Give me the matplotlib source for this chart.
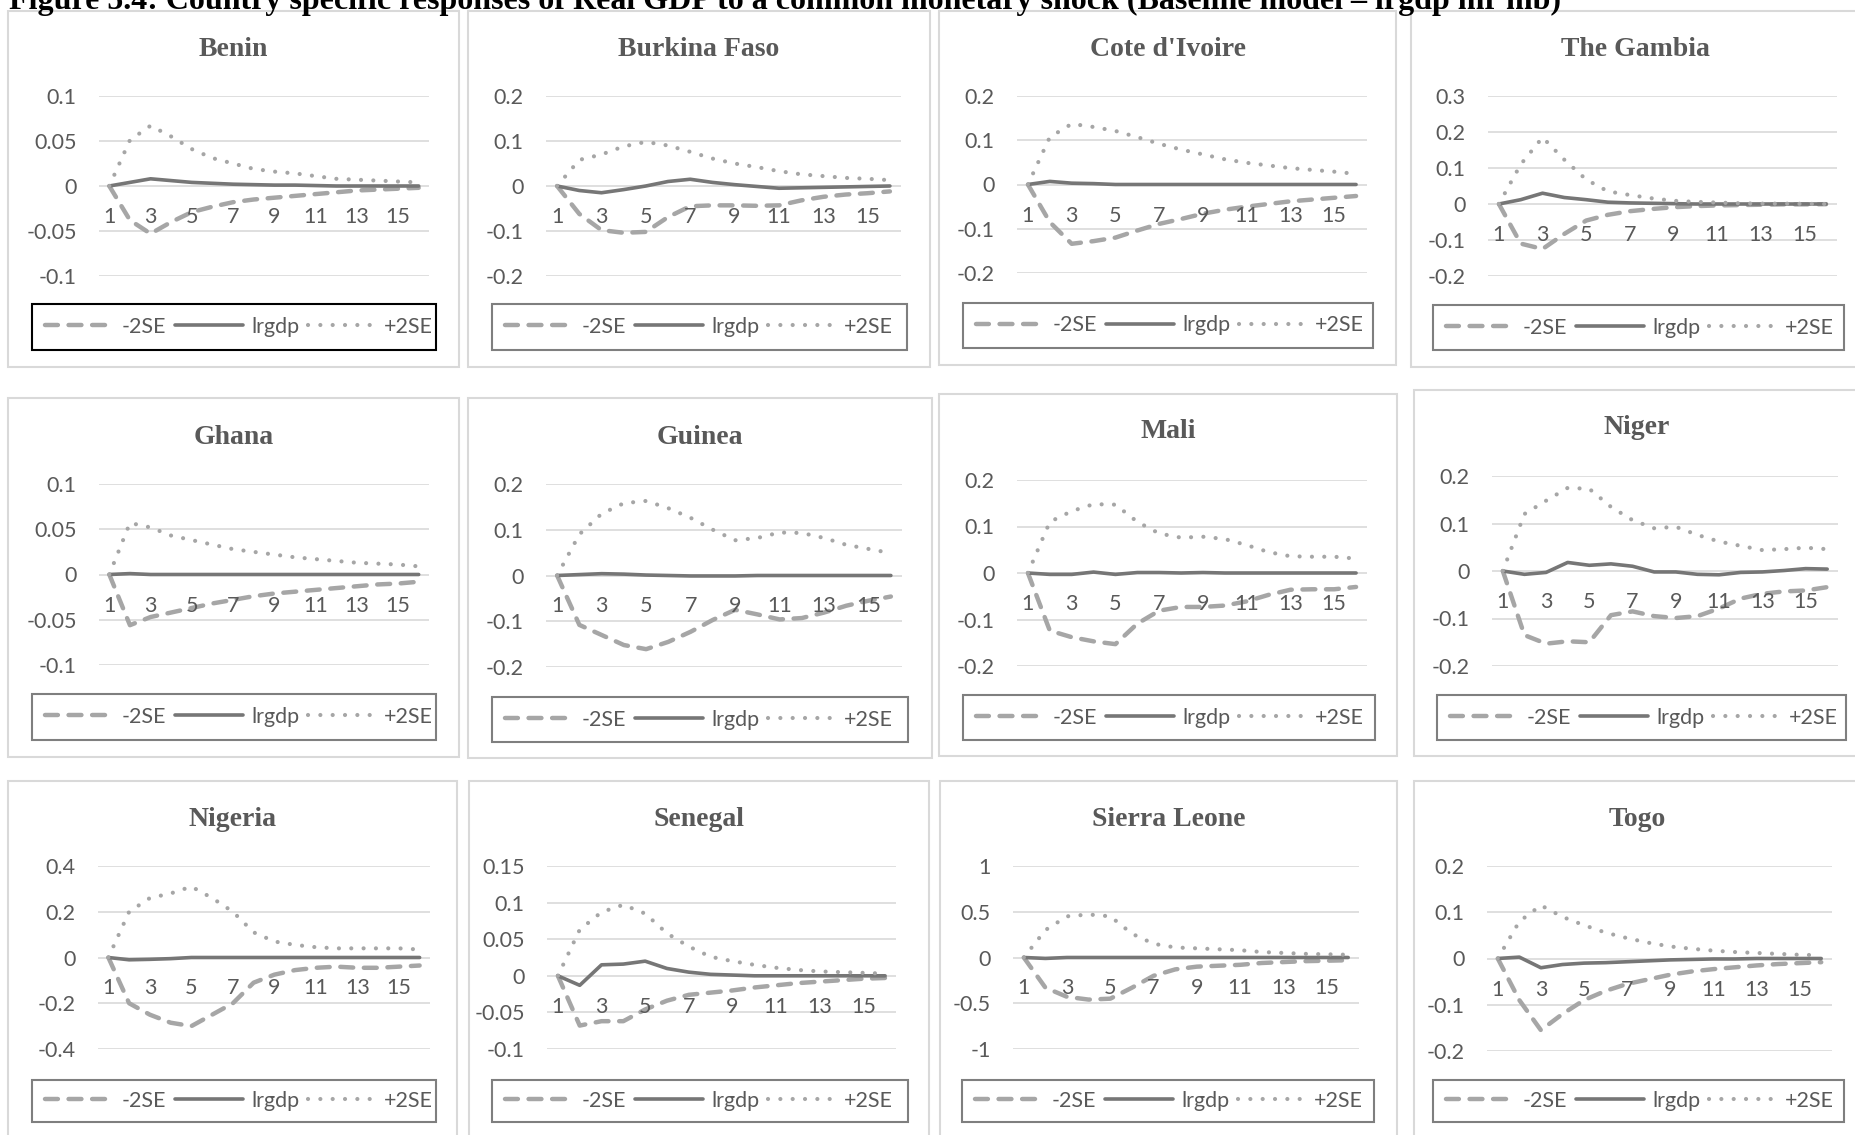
import matplotlib
matplotlib.use("Agg")
import matplotlib.pyplot as plt
from matplotlib.patches import Rectangle
from matplotlib.lines import Line2D

W, H = 1856, 1135

TITLE = ("Figure 5.4: Country specific responses of Real GDP to a common "
         "monetary shock (Baseline model \u2013 lrgdp mr mb)")

periods = list(range(1, 17))
xtick_labels = ["1", "3", "5", "7", "9", "11", "13", "15"]

countries = ["Benin", "Burkina Faso", "Cote d'Ivoire", "The Gambia",
             "Ghana", "Guinea", "Mali", "Niger",
             "Nigeria", "Senegal", "Sierra Leone", "Togo"]

ylims = [(-0.1, 0.1), (-0.2, 0.2), (-0.2, 0.2), (-0.2, 0.3),
         (-0.1, 0.1), (-0.2, 0.2), (-0.2, 0.2), (-0.2, 0.2),
         (-0.4, 0.4), (-0.1, 0.15), (-1, 1), (-0.2, 0.2)]
ysteps = [0.05, 0.1, 0.1, 0.1,
          0.05, 0.1, 0.1, 0.1,
          0.2, 0.05, 0.5, 0.1]

# -2SE
lower = [
    [0, -0.038, -0.053, -0.040, -0.029, -0.023, -0.018, -0.015, -0.013, -0.011, -0.009, -0.007, -0.005, -0.004, -0.003, -0.002],
    [0, -0.062, -0.098, -0.104, -0.102, -0.069, -0.045, -0.043, -0.043, -0.044, -0.043, -0.032, -0.024, -0.019, -0.016, -0.012],
    [0, -0.085, -0.134, -0.128, -0.120, -0.104, -0.089, -0.078, -0.066, -0.057, -0.050, -0.044, -0.038, -0.034, -0.030, -0.026],
    [0, -0.110, -0.125, -0.083, -0.046, -0.030, -0.020, -0.014, -0.009, -0.006, -0.004, -0.003, -0.002, -0.001, -0.001, -0.0005],
    [0, -0.056, -0.047, -0.042, -0.037, -0.032, -0.028, -0.024, -0.021, -0.019, -0.017, -0.015, -0.013, -0.011, -0.010, -0.008],
    [0, -0.108, -0.130, -0.152, -0.161, -0.145, -0.123, -0.097, -0.075, -0.085, -0.096, -0.093, -0.081, -0.066, -0.055, -0.046],
    [0, -0.124, -0.138, -0.147, -0.153, -0.109, -0.081, -0.073, -0.073, -0.070, -0.061, -0.047, -0.036, -0.035, -0.035, -0.030],
    [0, -0.135, -0.153, -0.148, -0.150, -0.093, -0.085, -0.095, -0.099, -0.095, -0.079, -0.058, -0.048, -0.043, -0.041, -0.034],
    [0, -0.200, -0.250, -0.285, -0.300, -0.250, -0.200, -0.110, -0.075, -0.055, -0.045, -0.040, -0.045, -0.045, -0.040, -0.035],
    [0, -0.068, -0.062, -0.062, -0.046, -0.034, -0.026, -0.023, -0.020, -0.016, -0.013, -0.010, -0.008, -0.006, -0.004, -0.003],
    [0, -0.330, -0.430, -0.460, -0.450, -0.330, -0.200, -0.130, -0.100, -0.090, -0.080, -0.060, -0.050, -0.040, -0.035, -0.030],
    [0, -0.090, -0.155, -0.120, -0.090, -0.070, -0.055, -0.045, -0.035, -0.028, -0.023, -0.019, -0.015, -0.012, -0.010, -0.008],
]

# lrgdp
response = [
    [0, 0.004, 0.008, 0.006, 0.004, 0.003, 0.002, 0.0015, 0.001, 0.001, 0.0005, 0, 0, 0, 0, 0],
    [0, -0.010, -0.015, -0.008, 0, 0.010, 0.015, 0.008, 0.003, -0.001, -0.005, -0.004, -0.003, -0.002, -0.001, 0],
    [0, 0.007, 0.003, 0.002, 0, 0, 0, 0, 0, 0, 0, 0, 0, 0, 0, 0],
    [0, 0.012, 0.030, 0.018, 0.012, 0.005, 0.003, 0.002, 0.001, 0, 0, 0, 0, 0, 0, 0],
    [0, 0.001, 0, 0, 0, 0, 0, 0, 0, 0, 0, 0, 0, 0, 0, 0],
    [0, 0.002, 0.004, 0.003, 0.001, 0, -0.001, -0.001, -0.001, 0, 0, 0, 0, 0, 0, 0],
    [0, -0.003, -0.003, 0.002, -0.003, 0.001, 0.001, 0, 0.001, 0, 0, 0, 0, 0, 0, 0],
    [0, -0.007, -0.003, 0.018, 0.012, 0.015, 0.010, -0.002, -0.002, -0.007, -0.008, -0.003, -0.002, 0.001, 0.005, 0.004],
    [0, -0.010, -0.008, -0.005, 0, 0, 0, 0, 0, 0, 0, 0, 0, 0, 0, 0],
    [0, -0.013, 0.015, 0.016, 0.020, 0.010, 0.005, 0.002, 0.001, 0, 0, 0, 0, 0, 0, 0],
    [0, -0.010, 0, 0, 0, 0, 0, 0, 0, 0, 0, 0, 0, 0, 0, 0],
    [0, 0.003, -0.020, -0.013, -0.010, -0.009, -0.007, -0.005, -0.003, -0.002, -0.001, -0.001, 0, 0, 0, 0],
]

# +2SE
upper = [
    [0, 0.051, 0.067, 0.055, 0.041, 0.031, 0.025, 0.019, 0.016, 0.014, 0.011, 0.008, 0.007, 0.006, 0.005, 0.004],
    [0, 0.058, 0.070, 0.088, 0.098, 0.090, 0.076, 0.061, 0.050, 0.042, 0.033, 0.026, 0.022, 0.018, 0.016, 0.013],
    [0, 0.107, 0.137, 0.130, 0.121, 0.107, 0.092, 0.079, 0.068, 0.057, 0.049, 0.043, 0.037, 0.033, 0.029, 0.024],
    [0, 0.110, 0.185, 0.123, 0.068, 0.035, 0.025, 0.016, 0.009, 0.006, 0.004, 0.002, 0.001, 0.001, 0.0005, 0],
    [0, 0.057, 0.052, 0.043, 0.038, 0.033, 0.028, 0.025, 0.022, 0.019, 0.017, 0.015, 0.013, 0.012, 0.011, 0.009],
    [0, 0.090, 0.135, 0.158, 0.163, 0.147, 0.126, 0.100, 0.077, 0.082, 0.094, 0.093, 0.082, 0.067, 0.058, 0.049],
    [0, 0.110, 0.133, 0.148, 0.147, 0.110, 0.085, 0.076, 0.078, 0.073, 0.060, 0.045, 0.036, 0.035, 0.035, 0.031],
    [0, 0.120, 0.148, 0.175, 0.173, 0.135, 0.107, 0.090, 0.093, 0.076, 0.062, 0.053, 0.044, 0.046, 0.049, 0.046],
    [0, 0.200, 0.260, 0.280, 0.310, 0.260, 0.200, 0.110, 0.070, 0.055, 0.045, 0.040, 0.040, 0.040, 0.040, 0.035],
    [0, 0.063, 0.087, 0.097, 0.085, 0.058, 0.040, 0.026, 0.020, 0.015, 0.011, 0.008, 0.006, 0.005, 0.004, 0.003],
    [0, 0.300, 0.450, 0.470, 0.450, 0.260, 0.150, 0.110, 0.100, 0.090, 0.080, 0.060, 0.050, 0.040, 0.035, 0.030],
    [0, 0.080, 0.115, 0.090, 0.072, 0.056, 0.044, 0.034, 0.026, 0.021, 0.017, 0.014, 0.012, 0.010, 0.008, 0.007],
]

series_names = ["-2SE", "lrgdp", "+2SE"]

# layout in pixels of the full image: panel box, plot area, legend box, title y
boxes = [(8, 11, 459, 367), (468, 11, 930, 367), (939, 11, 1396, 365), (1411, 11, 1860, 367),
         (8, 398, 459, 757), (468, 398, 932, 758), (939, 394, 1397, 756), (1414, 390, 1860, 756),
         (8, 781, 457, 1150), (469, 781, 929, 1150), (940, 781, 1397, 1150), (1414, 781, 1860, 1150)]
plots = [(99, 96, 429, 276), (546, 96, 901, 276), (1017, 96, 1367, 273), (1488, 96, 1837, 276),
         (99, 484, 429, 665), (546, 484, 902, 667), (1017, 480, 1367, 666), (1492, 476, 1838, 666),
         (98, 866, 430, 1049), (547, 866, 896, 1049), (1013, 866, 1359, 1049), (1487, 866, 1832, 1051)]
legends = [(32, 304, 436, 350), (492, 304, 907, 350), (963, 303, 1373, 348), (1433, 305, 1844, 350),
           (32, 694, 436, 740), (492, 697, 908, 742), (963, 695, 1375, 740), (1437, 695, 1846, 740),
           (32, 1080, 436, 1122), (492, 1080, 908, 1122), (962, 1080, 1374, 1122), (1433, 1080, 1844, 1122)]
title_y = [49, 49, 49, 49, 437, 437, 432, 428, 820, 820, 820, 820]

TEXT = "#595959"
GRID = "#d9d9d9"
SOLID = "#767676"
LIGHT = "#a6a6a6"
SANS = ["Lato", "DejaVu Sans"]
SERIF = ["Liberation Serif", "DejaVu Serif"]
FS = 15.5


def frac(x0, y0, x1, y1):
    return [x0 / W, 1 - y1 / H, (x1 - x0) / W, (y1 - y0) / H]


fig = plt.figure(figsize=(W / 100, H / 100), dpi=100)
fig.patch.set_facecolor("white")

fig.text(9 / W, 1 - 9 / H, TITLE, fontsize=23, fontweight="bold",
         family=SERIF, color="black", ha="left", va="baseline")

styles = [dict(color=LIGHT, lw=3.2, linestyle=(0, (2.9, 2.4)),
               dash_capstyle="round"),
          dict(color=SOLID, lw=2.6, solid_capstyle="round"),
          dict(color=LIGHT, lw=3.0, linestyle=(0, (0.01, 2.95)),
               dash_capstyle="round")]

for i, name in enumerate(countries):
    bx0, by0, bx1, by1 = boxes[i]
    fig.patches.append(Rectangle((bx0 / W, 1 - by1 / H), (bx1 - bx0) / W,
                                 (by1 - by0) / H, transform=fig.transFigure,
                                 facecolor="white", edgecolor=GRID, lw=1.5,
                                 zorder=-2))
    fig.text((bx0 + bx1) / 2 / W, 1 - title_y[i] / H, name, fontsize=20,
             fontweight="bold", family=SERIF, color=TEXT, ha="center",
             va="center")

    ax = fig.add_axes(frac(*plots[i]))
    ax.set_zorder(2)
    ax.set_facecolor("none")
    lo, hi = ylims[i]
    step = ysteps[i]
    n = int(round((hi - lo) / step))
    ticks = [lo + k * step for k in range(n + 1)]
    ax.set_ylim(lo, hi)
    ax.set_xlim(0.5, 16.5)
    ax.set_yticks(ticks)
    ax.set_yticklabels(["%g" % round(t, 3) for t in ticks])
    ax.set_xticks([])
    ax.tick_params(axis="y", length=0, pad=16, labelsize=FS,
                   labelcolor=TEXT)
    for lab in ax.get_yticklabels():
        lab.set_family(SANS)
    for sp in ax.spines.values():
        sp.set_visible(False)
    ax.grid(axis="y", color=GRID, lw=1.2)
    ax.set_axisbelow(True)

    for k, lbl in enumerate(xtick_labels):
        ax.annotate(lbl, xy=(1 + 2 * k, 0), xytext=(0, -31),
                    textcoords="offset pixels", ha="center", va="center",
                    fontsize=FS, family=SANS, color=TEXT,
                    annotation_clip=False)

    for vals, st in zip([lower[i], response[i], upper[i]], styles):
        ax.plot(periods, vals, clip_on=False, **st)

    lx0, ly0, lx1, ly1 = legends[i]
    fig.patches.append(Rectangle((lx0 / W, 1 - ly1 / H), (lx1 - lx0) / W,
                                 (ly1 - ly0) / H, transform=fig.transFigure,
                                 facecolor="white",
                                 edgecolor="black" if i == 0 else "#7f7f7f",
                                 lw=1.5, zorder=-1))
    handles = [Line2D([], [], **st) for st in styles]
    leg = fig.legend(handles, series_names, loc="center left",
                     bbox_to_anchor=((lx0 + 13) / W, 1 - (ly0 + ly1) / 2 / H),
                     frameon=False, ncol=3, borderpad=0, borderaxespad=0,
                     handlelength=3.2, handletextpad=0.35, columnspacing=0.4,
                     prop={"family": SANS, "size": FS}, labelcolor=TEXT)
    leg.set_zorder(3)

fig.savefig("out.png", dpi=100)
